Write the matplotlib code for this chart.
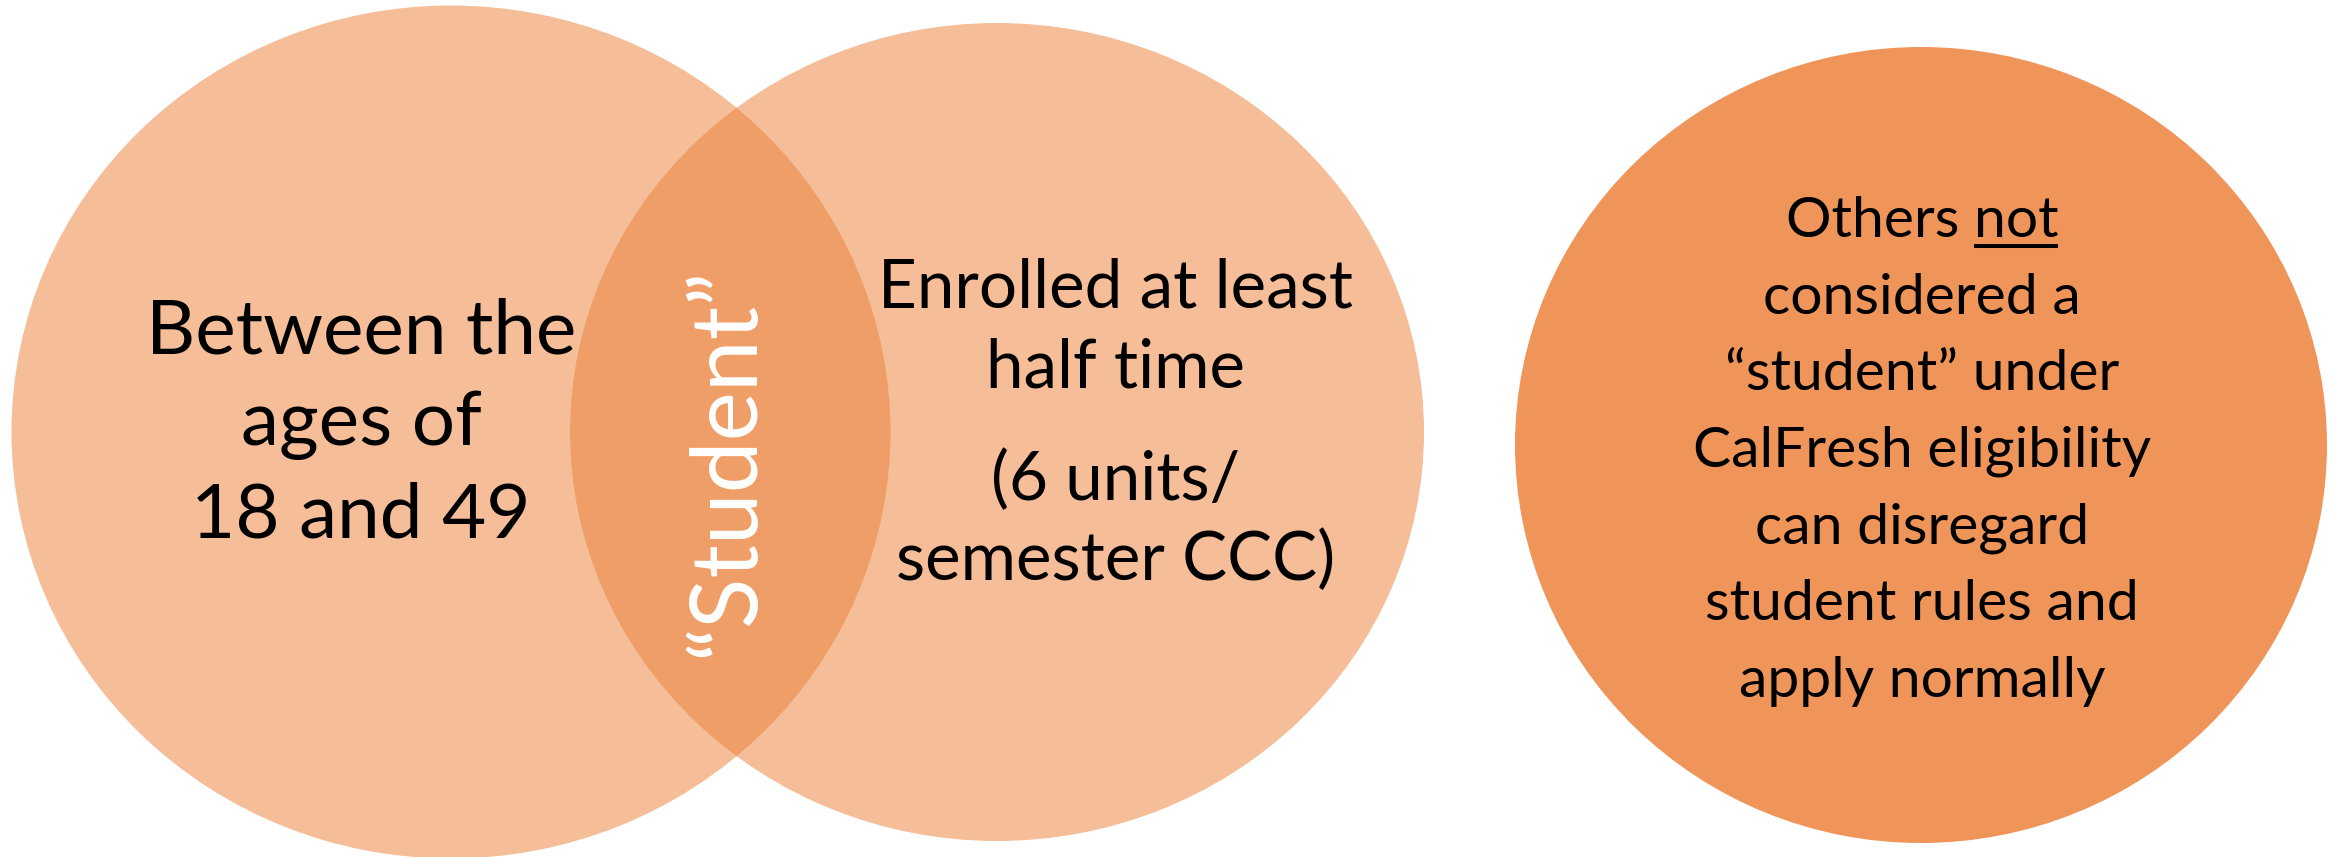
import matplotlib
matplotlib.use("Agg")
import matplotlib.pyplot as plt
from matplotlib.patches import Ellipse

# text content
left_lines = ["Between the", "ages of", "18 and 49"]
right_lines = ["Enrolled at least", "half time", "(6 units/", "semester CCC)"]
overlap_label = "\u201cStudent\u201d"
other_lines = ["Others not", "considered a", "\u201cstudent\u201d under",
               "CalFresh eligibility", "can disregard",
               "student rules and", "apply normally"]
underlined_word = "not"

light = "#F5BE99"
mid = "#F09E67"
dark = "#F0955A"
font = ["Lato", "DejaVu Sans"]

W, H = 2331, 857
fig = plt.figure(figsize=(W / 100, H / 100), dpi=100)
ax = fig.add_axes([0, 0, 1, 1])
ax.set_xlim(0, W)
ax.set_ylim(H, 0)
ax.axis("off")

# venn circles (pixel layout)
e1 = Ellipse((451, 432), 879, 853, color=light, lw=0)
e2 = Ellipse((997, 432), 854, 818, color=light, lw=0)
ax.add_patch(e1)
ax.add_patch(e2)
lens = Ellipse((451, 432), 879, 853, color=mid, lw=0)
ax.add_patch(lens)
lens.set_clip_path(e2)
ax.add_patch(Ellipse((1921, 445), 812, 796, color=dark, lw=0))

# left circle text
left_y = [353, 445, 538]
for s, y in zip(left_lines, left_y):
    ax.text(361, y, s, fontsize=55, family=font,
            ha="center", va="baseline", color="black")

# right circle text
right_y = [307, 387, 500, 580]
for s, y in zip(right_lines, right_y):
    ax.text(1116, y, s, fontsize=48.5, family=font,
            ha="center", va="baseline", color="black")

# overlap label
ax.text(727, 462, overlap_label, fontsize=67, family=font, rotation=90,
        ha="center", va="center", color="white")

# third circle text
texts = []
for i, s in enumerate(other_lines):
    t = ax.text(1922, 237 + i * 76.6, s, fontsize=41, family=font,
                ha="center", va="baseline", color="black")
    texts.append(t)

# underline "not"
fig.canvas.draw()
r = fig.canvas.get_renderer()
bb = texts[0].get_window_extent(r)
tmp = ax.text(0, 0, underlined_word, fontsize=41, family=font)
w = tmp.get_window_extent(r).width
tmp.remove()
inv = ax.transData.inverted()
x1 = inv.transform((bb.x1, 0))[0]
x0 = inv.transform((bb.x1 - w, 0))[0]
ax.plot([x0, x1], [245.5, 245.5], color="black", lw=2.9, solid_capstyle="butt")

fig.savefig("out.png", dpi=100)
